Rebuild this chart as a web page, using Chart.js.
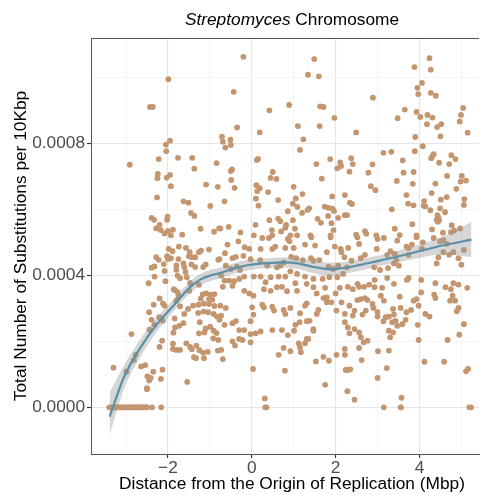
<!DOCTYPE html>
<html>
<head>
<meta charset="utf-8">
<script src="https://cdn.jsdelivr.net/npm/chart.js@4.4.1/dist/chart.umd.min.js"></script>
<style>
  html, body { margin: 0; padding: 0; background: #fff; }
  #wrap { width: 483px; height: 495px; position: relative; }
</style>
</head>
<body>
<div id="wrap"><canvas id="subsChart"></canvas></div>
<script>
// Substitutions per 10Kbp window vs distance from oriC (Mbp)
// sites left of the origin, upper part
const sitesWestHigh = [
  [-1.99, 9.94e-4], [-2.43, 9.10e-4], [-2.36, 9.10e-4], [-1.95, 8.08e-4], [-2.05, 7.96e-4],
  [-2.04, 7.76e-4], [-2.91, 7.35e-4], [-2.22, 7.52e-4], [-1.76, 7.56e-4], [-1.42, 7.56e-4],
  [-0.84, 7.40e-4], [-1.37, 7.23e-4], [-2.24, 7.07e-4], [-2.25, 6.94e-4], [-1.95, 7.04e-4],
  [-2.03, 6.96e-4], [-1.93, 6.70e-4], [-1.09, 6.75e-4], [-0.81, 6.68e-4], [-2.26, 6.36e-4],
  [-1.63, 6.24e-4], [-1.51, 6.20e-4], [-0.99, 6.10e-4], [-1.45, 5.89e-4], [-1.37, 5.80e-4],
  [-2.39, 5.74e-4], [-2.33, 5.68e-4], [-2.01, 5.78e-4], [-2.02, 5.68e-4], [-2.20, 5.53e-4],
  [-2.28, 5.42e-4], [-2.17, 5.37e-4], [-2.08, 5.27e-4], [-2.00, 5.34e-4], [-1.88, 5.38e-4],
  [-1.93, 5.21e-4], [-1.66, 5.23e-4], [-1.22, 5.41e-4], [-0.90, 5.32e-4], [-0.78, 5.42e-4]
];

// sites around the origin, upper part
const sitesMidHigh = [
  [-0.20, 10.62e-4], [1.49, 10.55e-4], [1.34, 10.08e-4], [1.60, 10.03e-4], [-0.43, 9.56e-4],
  [0.42, 9.00e-4], [0.89, 9.16e-4], [1.63, 9.12e-4], [1.71, 9.10e-4], [1.97, 8.77e-4],
  [1.10, 8.52e-4], [1.62, 8.52e-4], [-0.35, 8.48e-4], [0.19, 8.33e-4], [-0.71, 8.20e-4],
  [-0.69, 8.05e-4], [-0.51, 8.11e-4], [-0.50, 7.95e-4], [-0.63, 7.87e-4], [1.23, 8.12e-4],
  [1.15, 7.80e-4], [0.12, 7.49e-4], [0.15, 7.53e-4], [1.54, 7.37e-4], [1.87, 7.52e-4],
  [2.11, 7.42e-4], [2.13, 7.31e-4], [2.04, 7.24e-4], [-0.50, 7.16e-4], [-0.47, 7.21e-4],
  [-0.49, 6.89e-4], [0.50, 7.13e-4], [0.45, 6.95e-4], [0.59, 6.92e-4], [1.67, 6.93e-4],
  [-0.41, 6.65e-4], [0.11, 6.73e-4], [0.19, 6.64e-4], [0.13, 6.55e-4], [1.00, 6.68e-4],
  [0.39, 6.52e-4], [-0.65, 6.24e-4], [0.10, 6.32e-4], [0.16, 6.11e-4], [0.63, 6.28e-4],
  [1.05, 6.33e-4], [1.21, 6.46e-4], [0.98, 6.17e-4], [1.09, 6.07e-4], [1.20, 5.89e-4],
  [1.33, 5.98e-4], [1.37, 6.03e-4], [0.86, 5.94e-4], [1.92, 6.39e-4], [2.22, 6.43e-4],
  [1.74, 6.08e-4], [1.83, 6.04e-4], [1.92, 6.02e-4], [1.96, 5.95e-4], [1.82, 5.80e-4],
  [2.06, 5.74e-4], [2.22, 5.82e-4], [1.57, 5.71e-4], [1.65, 5.59e-4], [1.90, 5.58e-4],
  [1.95, 5.37e-4], [1.88, 5.21e-4], [-0.75, 5.42e-4], [-0.55, 5.47e-4], [-0.27, 5.30e-4],
  [0.09, 5.53e-4], [0.42, 5.67e-4], [0.48, 5.37e-4], [0.63, 5.72e-4], [0.68, 5.64e-4],
  [0.82, 5.53e-4], [0.80, 5.44e-4], [0.70, 5.33e-4], [0.98, 5.67e-4], [1.03, 5.41e-4],
  [0.92, 5.21e-4], [1.08, 5.21e-4], [1.40, 5.21e-4], [0.49, 5.21e-4], [0.05, 5.21e-4]
];

// sites right of the origin, upper part
const sitesEastHigh = [
  [4.24, 10.58e-4], [3.88, 10.31e-4], [4.27, 10.23e-4], [4.06, 9.83e-4], [3.95, 9.68e-4],
  [3.97, 9.49e-4], [4.27, 9.53e-4], [4.39, 9.44e-4], [2.89, 9.38e-4], [3.65, 9.02e-4],
  [3.48, 8.76e-4], [3.93, 8.95e-4], [4.02, 8.80e-4], [4.19, 8.86e-4], [4.31, 8.78e-4],
  [4.18, 8.58e-4], [4.42, 8.49e-4], [4.52, 8.58e-4], [4.50, 8.21e-4], [5.04, 9.07e-4],
  [4.99, 8.86e-4], [4.96, 8.66e-4], [5.15, 8.32e-4], [2.49, 8.33e-4], [3.90, 8.19e-4],
  [4.08, 7.91e-4], [3.89, 7.76e-4], [3.14, 7.71e-4], [3.33, 7.74e-4], [2.37, 7.55e-4],
  [2.41, 7.37e-4], [2.33, 7.14e-4], [2.88, 7.36e-4], [3.60, 7.48e-4], [2.78, 7.11e-4],
  [3.62, 7.11e-4], [3.86, 7.13e-4], [3.46, 6.86e-4], [3.84, 6.77e-4], [2.84, 6.70e-4],
  [2.95, 6.58e-4], [4.28, 7.55e-4], [4.34, 7.67e-4], [4.31, 7.62e-4], [4.47, 7.41e-4],
  [4.76, 7.64e-4], [4.86, 7.52e-4], [4.71, 7.37e-4], [4.66, 7.01e-4], [5.01, 7.01e-4],
  [4.98, 6.84e-4], [5.11, 6.87e-4], [4.38, 6.78e-4], [4.88, 6.62e-4], [4.29, 6.49e-4],
  [3.69, 6.43e-4], [3.73, 6.17e-4], [3.86, 6.12e-4], [4.11, 6.25e-4], [4.10, 6.11e-4],
  [4.14, 6.09e-4], [4.26, 5.97e-4], [4.51, 6.29e-4], [4.65, 6.37e-4], [5.07, 6.31e-4],
  [5.06, 6.13e-4], [4.49, 6.03e-4], [4.61, 5.91e-4], [2.34, 6.20e-4], [2.39, 6.16e-4],
  [2.27, 5.82e-4], [3.34, 6.00e-4], [4.43, 5.82e-4], [4.45, 5.75e-4], [4.41, 5.68e-4],
  [4.47, 5.67e-4], [4.44, 5.62e-4], [3.83, 5.55e-4], [3.41, 5.41e-4], [3.53, 5.22e-4],
  [2.70, 5.34e-4], [2.73, 5.26e-4], [2.49, 5.23e-4], [2.97, 5.21e-4], [3.93, 5.21e-4],
  [4.30, 5.39e-4], [4.77, 5.52e-4], [4.97, 5.42e-4], [4.83, 5.36e-4], [4.75, 5.31e-4],
  [4.56, 5.29e-4]
];

// left of the origin, lower part
const sitesWestLow = [
  [-1.98, 4.80e-4], [-1.74, 4.87e-4], [-1.57, 4.83e-4], [-1.89, 4.73e-4], [-1.48, 4.70e-4],
  [-1.50, 4.58e-4], [-1.35, 4.55e-4], [-1.26, 4.70e-4], [-1.21, 4.75e-4], [-1.43, 4.55e-4],
  [-1.02, 4.78e-4], [-0.80, 4.47e-4], [-2.02, 4.58e-4], [-1.93, 4.52e-4], [-2.00, 4.49e-4],
  [-1.75, 4.49e-4], [-2.28, 4.55e-4], [-2.22, 4.47e-4], [-2.10, 4.34e-4], [-2.32, 4.27e-4],
  [-2.39, 4.23e-4], [-1.80, 4.30e-4], [-1.80, 4.17e-4], [-1.63, 4.36e-4], [-1.61, 4.25e-4],
  [-1.44, 4.33e-4], [-1.35, 4.25e-4], [-1.16, 4.25e-4], [-1.10, 4.33e-4], [-2.08, 4.13e-4],
  [-1.77, 3.99e-4], [-1.58, 4.10e-4], [-1.55, 3.94e-4], [-1.71, 3.91e-4], [-1.47, 3.77e-4],
  [-1.26, 3.71e-4], [-2.06, 3.82e-4], [-2.46, 3.76e-4], [-2.32, 3.96e-4], [-1.86, 3.58e-4],
  [-1.77, 3.49e-4], [-1.83, 3.55e-4], [-1.75, 3.38e-4], [-1.80, 3.23e-4], [-1.49, 3.53e-4],
  [-1.17, 3.42e-4], [-1.09, 3.45e-4], [-0.99, 3.41e-4], [-0.89, 3.43e-4], [-1.02, 3.28e-4],
  [-1.22, 3.29e-4], [-0.94, 3.26e-4], [-1.14, 3.14e-4], [-1.02, 3.13e-4], [-0.89, 3.07e-4],
  [-1.27, 3.11e-4], [-1.40, 3.08e-4], [-1.28, 2.86e-4], [-1.15, 2.90e-4], [-1.04, 2.88e-4],
  [-0.91, 2.83e-4], [-0.83, 2.75e-4], [-1.24, 2.58e-4], [-0.99, 2.44e-4], [-1.10, 2.39e-4],
  [-0.91, 2.32e-4], [-1.13, 2.27e-4], [-1.26, 2.24e-4], [-0.84, 2.25e-4], [-0.92, 2.09e-4],
  [-0.80, 2.04e-4], [-2.08, 3.08e-4], [-2.20, 3.30e-4], [-2.34, 3.11e-4], [-2.12, 3.15e-4],
  [-1.71, 3.06e-4], [-1.52, 2.98e-4], [-1.61, 2.83e-4], [-1.84, 2.69e-4], [-1.63, 2.55e-4],
  [-1.73, 2.47e-4], [-1.83, 2.42e-4], [-1.87, 2.26e-4], [-2.12, 2.62e-4], [-2.17, 2.70e-4],
  [-2.14, 2.02e-4], [-2.20, 1.83e-4], [-1.88, 1.93e-4], [-1.56, 1.94e-4], [-1.47, 1.83e-4],
  [-1.32, 1.87e-4], [-1.43, 1.76e-4], [-1.25, 1.73e-4], [-1.16, 1.65e-4], [-1.88, 1.77e-4],
  [-1.80, 1.74e-4], [-1.71, 1.74e-4], [-1.38, 1.52e-4], [-1.33, 1.49e-4], [-1.14, 1.49e-4],
  [-1.05, 1.68e-4], [-0.81, 1.72e-4], [-2.45, 2.88e-4], [-2.39, 2.65e-4], [-2.44, 2.35e-4],
  [-2.32, 2.50e-4], [-2.21, 2.73e-4], [-2.87, 2.22e-4], [-2.77, 1.59e-4], [-2.81, 1.43e-4],
  [-2.99, 1.08e-4], [-3.30, 1.20e-4], [-2.64, 1.24e-4], [-2.54, 1.28e-4], [-2.49, 0.94e-4],
  [-2.45, 0.81e-4], [-2.41, 0.89e-4], [-2.50, 0.58e-4], [-2.35, 1.08e-4], [-2.17, 0.86e-4],
  [-2.13, 1.14e-4], [-1.54, 0.77e-4], [-2.50, 0.55e-4]
];

// around the origin, lower part
const sitesMidLow = [
  [0.25, 5.13e-4], [0.41, 5.13e-4], [0.86, 5.10e-4], [1.42, 5.15e-4], [1.88, 5.15e-4],
  [-0.58, 4.93e-4], [-0.32, 5.03e-4], [-0.64, 4.67e-4], [-0.17, 4.85e-4], [-0.06, 4.80e-4],
  [0.21, 4.80e-4], [0.49, 4.80e-4], [0.56, 4.87e-4], [0.80, 4.83e-4], [0.90, 5.03e-4],
  [1.00, 4.83e-4], [1.27, 4.93e-4], [1.51, 4.90e-4], [1.79, 4.70e-4], [1.98, 4.87e-4],
  [2.12, 4.80e-4], [-0.77, 4.49e-4], [-0.46, 4.52e-4], [-0.38, 4.56e-4], [-0.20, 4.59e-4],
  [-0.03, 4.49e-4], [0.20, 4.46e-4], [0.37, 4.29e-4], [0.60, 4.24e-4], [0.68, 4.29e-4],
  [0.76, 4.39e-4], [0.94, 4.56e-4], [1.06, 4.52e-4], [1.22, 4.46e-4], [1.41, 4.52e-4],
  [1.47, 4.44e-4], [1.61, 4.46e-4], [1.83, 4.26e-4], [1.94, 4.19e-4], [2.06, 4.29e-4],
  [2.14, 4.70e-4], [-0.62, 4.29e-4], [-0.50, 4.19e-4], [-0.36, 4.26e-4], [-0.28, 4.16e-4],
  [-0.73, 3.99e-4], [-0.65, 3.84e-4], [-0.54, 3.84e-4], [-0.42, 3.82e-4], [-0.30, 3.89e-4],
  [-0.18, 3.96e-4], [0.05, 3.96e-4], [0.21, 3.96e-4], [0.33, 3.79e-4], [0.45, 3.94e-4],
  [0.64, 3.96e-4], [0.80, 3.96e-4], [0.92, 4.12e-4], [1.08, 4.04e-4], [1.27, 3.96e-4],
  [1.47, 3.89e-4], [1.69, 3.89e-4], [1.85, 3.94e-4], [2.04, 3.94e-4], [2.18, 4.04e-4],
  [-0.69, 3.65e-4], [-0.46, 3.68e-4], [-0.18, 3.53e-4], [-0.06, 3.45e-4], [0.04, 3.38e-4],
  [0.29, 3.58e-4], [0.45, 3.53e-4], [0.60, 3.64e-4], [0.72, 3.65e-4], [0.84, 3.52e-4],
  [1.04, 3.76e-4], [1.08, 3.53e-4], [1.31, 3.74e-4], [1.47, 3.64e-4], [1.55, 3.45e-4],
  [1.75, 3.62e-4], [1.79, 3.33e-4], [2.00, 3.45e-4], [2.10, 3.62e-4], [-0.75, 3.08e-4],
  [-0.62, 3.01e-4], [-0.73, 2.78e-4], [-0.77, 2.65e-4], [-0.65, 2.50e-4], [-0.46, 2.55e-4],
  [-0.38, 2.61e-4], [-0.30, 2.34e-4], [-0.18, 2.34e-4], [-0.03, 2.61e-4], [0.01, 3.03e-4],
  [0.04, 2.81e-4], [0.25, 3.11e-4], [0.29, 3.03e-4], [0.49, 3.05e-4], [0.53, 2.93e-4],
  [0.76, 2.95e-4], [0.80, 2.83e-4], [0.92, 3.01e-4], [1.04, 2.50e-4], [1.15, 2.85e-4],
  [1.27, 3.08e-4], [1.31, 3.15e-4], [1.38, 2.62e-4], [1.47, 2.37e-4], [1.55, 2.83e-4],
  [1.59, 2.95e-4], [1.71, 3.31e-4], [1.79, 3.18e-4], [1.90, 3.18e-4], [2.02, 2.93e-4],
  [2.14, 3.18e-4], [2.22, 2.83e-4], [2.22, 2.58e-4], [-0.03, 2.22e-4], [0.09, 2.24e-4],
  [0.21, 2.30e-4], [0.49, 2.34e-4], [0.72, 2.34e-4], [0.86, 2.19e-4], [1.01, 2.32e-4],
  [1.14, 2.58e-4], [1.31, 2.61e-4], [1.31, 2.07e-4], [1.47, 2.32e-4], [-0.46, 2.00e-4],
  [-0.40, 1.87e-4], [-0.30, 2.07e-4], [-0.22, 2.04e-4], [-0.73, 1.74e-4], [-0.69, 1.46e-4],
  [-0.03, 1.97e-4], [0.64, 1.59e-4], [0.76, 1.80e-4], [0.92, 1.70e-4], [1.12, 1.94e-4],
  [1.15, 1.82e-4], [1.17, 1.67e-4], [1.27, 1.94e-4], [1.35, 2.07e-4], [1.53, 1.39e-4],
  [1.71, 1.53e-4], [1.84, 1.41e-4], [2.02, 1.59e-4], [2.22, 1.77e-4], [2.22, 1.59e-4],
  [2.24, 1.13e-4], [0.03, 1.16e-4], [0.79, 1.11e-4], [0.31, 0.27e-4], [1.75, 0.68e-4]
];

// right of the origin, lower part
const sitesEastLow = [
  [3.00, 5.10e-4], [3.15, 5.13e-4], [3.47, 5.05e-4], [4.34, 5.13e-4], [4.49, 5.03e-4],
  [4.57, 5.07e-4], [2.52, 5.15e-4], [2.30, 4.83e-4], [2.56, 4.95e-4], [2.70, 4.62e-4],
  [2.60, 4.52e-4], [2.98, 4.80e-4], [2.92, 4.24e-4], [3.23, 4.62e-4], [3.31, 4.73e-4],
  [3.41, 4.65e-4], [3.45, 4.46e-4], [3.39, 4.36e-4], [3.51, 4.29e-4], [3.69, 4.87e-4],
  [3.74, 4.83e-4], [3.82, 4.93e-4], [3.74, 4.62e-4], [4.06, 4.80e-4], [4.08, 5.00e-4],
  [3.93, 5.15e-4], [4.45, 4.55e-4], [4.41, 4.36e-4], [4.57, 4.70e-4], [4.71, 4.62e-4],
  [4.81, 4.70e-4], [4.93, 4.52e-4], [5.00, 4.32e-4], [5.06, 4.77e-4], [4.65, 4.95e-4],
  [2.21, 4.55e-4], [2.27, 4.24e-4], [2.38, 4.44e-4], [3.06, 4.16e-4], [3.25, 4.22e-4],
  [2.29, 3.65e-4], [2.41, 3.58e-4], [2.52, 3.74e-4], [2.56, 3.65e-4], [2.68, 3.65e-4],
  [2.80, 3.72e-4], [2.93, 3.64e-4], [2.93, 3.86e-4], [3.11, 3.62e-4], [3.23, 3.92e-4],
  [3.39, 3.74e-4], [3.70, 3.86e-4], [3.74, 3.92e-4], [4.04, 3.86e-4], [4.38, 3.76e-4],
  [4.62, 3.64e-4], [4.75, 3.58e-4], [4.81, 3.76e-4], [4.93, 3.72e-4], [5.14, 3.62e-4],
  [4.79, 3.38e-4], [4.85, 3.23e-4], [4.73, 3.23e-4], [4.35, 3.41e-4], [4.38, 3.31e-4],
  [4.04, 3.48e-4], [3.93, 3.28e-4], [3.86, 3.23e-4], [3.53, 3.35e-4], [3.37, 2.98e-4],
  [3.55, 3.01e-4], [3.98, 3.08e-4], [3.80, 2.95e-4], [4.14, 2.83e-4], [4.24, 2.75e-4],
  [4.89, 2.91e-4], [4.93, 3.01e-4], [2.33, 3.08e-4], [2.45, 2.93e-4], [2.41, 2.78e-4],
  [2.52, 3.25e-4], [2.60, 3.28e-4], [2.70, 3.31e-4], [2.76, 3.25e-4], [2.64, 2.81e-4],
  [2.72, 2.93e-4], [2.88, 3.13e-4], [2.90, 3.01e-4], [3.00, 2.88e-4], [3.08, 3.38e-4],
  [3.15, 3.23e-4], [3.00, 2.75e-4], [3.14, 2.61e-4], [3.19, 2.73e-4], [3.27, 2.75e-4],
  [3.39, 2.81e-4], [3.35, 2.58e-4], [3.43, 2.62e-4], [3.47, 2.47e-4], [3.59, 2.52e-4],
  [3.67, 2.65e-4], [3.69, 2.88e-4], [3.96, 2.50e-4], [2.45, 2.37e-4], [2.56, 2.27e-4],
  [2.29, 2.42e-4], [2.33, 2.24e-4], [2.60, 2.12e-4], [2.76, 2.02e-4], [2.67, 1.97e-4],
  [2.56, 1.80e-4], [2.62, 1.43e-4], [3.01, 1.70e-4], [3.27, 1.72e-4], [3.27, 2.32e-4],
  [3.30, 2.12e-4], [3.37, 2.27e-4], [3.22, 1.19e-4], [3.00, 0.89e-4], [3.98, 2.04e-4],
  [4.12, 1.38e-4], [4.59, 1.38e-4], [4.67, 2.04e-4], [4.95, 2.20e-4], [5.06, 2.52e-4],
  [5.11, 1.09e-4], [5.16, 1.16e-4], [2.30, 1.13e-4], [2.35, 1.15e-4], [2.28, 0.49e-4],
  [2.45, 0.23e-4], [3.57, 0.29e-4]
];

// windows with no substitutions (Mbp)
const zeroSites = [
  -3.40, -3.37, -3.34, -3.31, -3.28, -3.25, -3.22, -3.19, -3.16, -3.13, -3.10, -3.07,
  -3.04, -3.00, -2.97, -2.94, -2.91, -2.88, -2.85, -2.82, -2.79, -2.76, -2.73, -2.70,
  -2.67, -2.64, -2.61, -2.58, -2.55, -2.52, -2.50, -2.38, -2.16, 0.32, 0.35, 3.15,
  3.55, 3.56, 5.19, 5.23
];

// loess fit with its confidence band
const fitMbp  = [-3.39, -3.05, -2.65, -2.26, -1.87, -1.47, -1.24, -1.00, -0.78, -0.34, -0.03,
                 0.37, 0.80, 1.10, 1.45, 1.89, 2.20, 3.00, 3.78, 4.57, 5.24];
const fitRate = [-0.28e-4, 0.91e-4, 1.82e-4, 2.52e-4, 3.08e-4, 3.64e-4, 3.86e-4, 3.99e-4, 4.06e-4,
                 4.24e-4, 4.32e-4, 4.37e-4, 4.39e-4, 4.36e-4, 4.26e-4, 4.18e-4, 4.22e-4, 4.43e-4,
                 4.66e-4, 4.91e-4, 5.08e-4];
const fitLow  = [-0.85e-4, 0.55e-4, 1.55e-4, 2.30e-4, 2.90e-4, 3.46e-4, 3.69e-4, 3.82e-4, 3.90e-4,
                 4.08e-4, 4.16e-4, 4.22e-4, 4.23e-4, 4.19e-4, 4.07e-4, 3.98e-4, 4.04e-4, 4.27e-4,
                 4.47e-4, 4.64e-4, 4.55e-4];
const fitHigh = [0.45e-4, 1.27e-4, 2.08e-4, 2.73e-4, 3.26e-4, 3.82e-4, 4.03e-4, 4.16e-4, 4.22e-4,
                 4.40e-4, 4.48e-4, 4.52e-4, 4.55e-4, 4.53e-4, 4.45e-4, 4.38e-4, 4.40e-4, 4.59e-4,
                 4.85e-4, 5.18e-4, 5.62e-4];

// axes
const xMajor = [-2, 0, 2, 4];
const xMinor = [-3, -1, 1, 3, 5];
const yMajor = [0, 4e-4, 8e-4];
const yMinor = [2e-4, 6e-4, 10e-4];
const xRange = [-3.835, 5.42];
const yRange = [-1.415e-4, 11.19e-4];

const FONT = '"Liberation Sans", Arial, Helvetica, sans-serif';
const TEXT_SIZE = 17.3;
Chart.defaults.font.family = FONT;

const allSites = [].concat(sitesWestHigh, sitesMidHigh, sitesEastHigh,
                           sitesWestLow, sitesMidLow, sitesEastLow)
  .map(p => ({ x: p[0], y: p[1] }))
  .concat(zeroSites.map(x => ({ x: x, y: 0 })));

const pairUp = (xs, ys) => xs.map((x, i) => ({ x: x, y: ys[i] }));

const near = (list, v) => list.some(m => Math.abs(m - v) < 1e-9);

function fixTicks(major, minor) {
  return function(scale) {
    scale.ticks = major.concat(minor).sort((a, b) => a - b).map(v => ({ value: v }));
  };
}

// main title with an italic genus name, x-axis title, top border
const decorPlugin = {
  id: 'decor',
  afterDraw(chart) {
    const ctx = chart.ctx;
    const area = chart.chartArea;
    ctx.save();
    ctx.strokeStyle = '#555';
    ctx.lineWidth = 1;
    ctx.beginPath();
    ctx.moveTo(area.left, area.top + 0.5);
    ctx.lineTo(area.right, area.top + 0.5);
    ctx.stroke();

    ctx.fillStyle = '#000';
    ctx.textBaseline = 'middle';
    const cx = 292;
    const italic = 'italic ' + TEXT_SIZE + 'px ' + FONT;
    const plain = TEXT_SIZE + 'px ' + FONT;
    const genus = 'Streptomyces';
    const rest = ' Chromosome';
    ctx.font = italic;
    const wGenus = ctx.measureText(genus).width;
    ctx.font = plain;
    const wRest = ctx.measureText(rest).width;
    const x0 = cx - (wGenus + wRest) / 2;
    ctx.textAlign = 'left';
    ctx.font = italic;
    ctx.fillText(genus, x0, 20);
    ctx.font = plain;
    ctx.fillText(rest, x0 + wGenus, 20);

    ctx.textAlign = 'center';
    ctx.fillText('Distance from the Origin of Replication (Mbp)', cx, 484);
    ctx.restore();
  }
};

new Chart(document.getElementById('subsChart'), {
  type: 'scatter',
  data: {
    datasets: [
      {
        label: 'fit',
        data: pairUp(fitMbp, fitRate),
        showLine: true,
        borderColor: '#5a8fa7',
        borderWidth: 2.2,
        pointRadius: 0,
        cubicInterpolationMode: 'monotone',
        fill: false
      },
      {
        label: 'upper',
        data: pairUp(fitMbp, fitHigh),
        showLine: true,
        borderWidth: 0,
        borderColor: 'rgba(0,0,0,0)',
        backgroundColor: 'rgba(153,153,153,0.4)',
        pointRadius: 0,
        cubicInterpolationMode: 'monotone',
        fill: '+1'
      },
      {
        label: 'lower',
        data: pairUp(fitMbp, fitLow),
        showLine: true,
        borderWidth: 0,
        borderColor: 'rgba(0,0,0,0)',
        pointRadius: 0,
        cubicInterpolationMode: 'monotone',
        fill: false
      },
      {
        label: 'windows',
        data: allSites,
        backgroundColor: '#c4966f',
        borderWidth: 0,
        pointRadius: 2.9
      }
    ]
  },
  options: {
    responsive: true,
    maintainAspectRatio: false,
    animation: false,
    layout: { padding: { top: 38, right: 0, bottom: 0, left: 0 } },
    plugins: {
      legend: { display: false },
      tooltip: { enabled: false },
      title: { display: false }
    },
    scales: {
      x: {
        type: 'linear',
        min: xRange[0],
        max: xRange[1],
        afterBuildTicks: fixTicks(xMajor, xMinor),
        afterFit(scale) { scale.height = 41; },
        border: { display: true, color: '#555', width: 1 },
        grid: {
          color: ctx => near(xMajor, ctx.tick.value) ? '#e6e6e6' : '#f3f3f3',
          lineWidth: ctx => near(xMajor, ctx.tick.value) ? 1.1 : 0.8,
          tickColor: ctx => near(xMajor, ctx.tick.value) ? '#333' : 'rgba(0,0,0,0)',
          tickLength: 4
        },
        ticks: {
          autoSkip: false,
          maxRotation: 0,
          padding: 0,
          color: '#4d4d4d',
          font: { size: TEXT_SIZE },
          callback: v => near(xMajor, v) ? (v < 0 ? '\u2212' + Math.abs(v) : String(v)) : ''
        }
      },
      y: {
        type: 'linear',
        min: yRange[0],
        max: yRange[1],
        afterBuildTicks: fixTicks(yMajor, yMinor),
        afterFit(scale) { scale.width = 91; },
        border: { display: true, color: '#555', width: 1 },
        grid: {
          color: ctx => near(yMajor, ctx.tick.value) ? '#e6e6e6' : '#f3f3f3',
          lineWidth: ctx => near(yMajor, ctx.tick.value) ? 1.1 : 0.8,
          tickColor: ctx => near(yMajor, ctx.tick.value) ? '#333' : 'rgba(0,0,0,0)',
          tickLength: 4
        },
        ticks: {
          autoSkip: false,
          padding: 2,
          color: '#4d4d4d',
          font: { size: TEXT_SIZE },
          callback: v => near(yMajor, v) ? v.toFixed(4) : ''
        },
        title: {
          display: true,
          text: 'Total Number of Substitutions per 10Kbp',
          color: '#000',
          font: { size: TEXT_SIZE },
          padding: { top: 11, bottom: 11 }
        }
      }
    }
  },
  plugins: [decorPlugin]
});
</script>
</body>
</html>
